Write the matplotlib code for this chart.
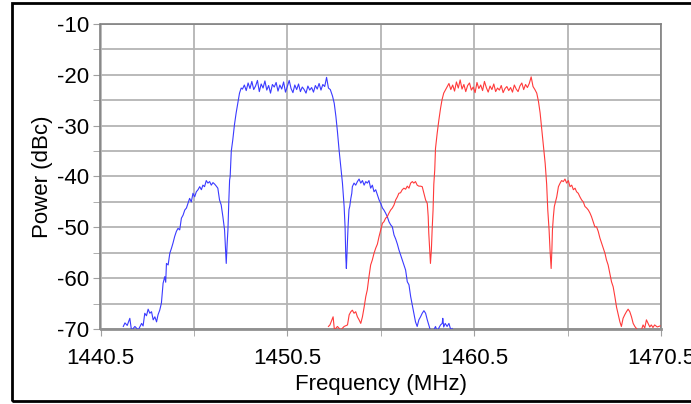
import matplotlib.pyplot as plt
from matplotlib.patches import Rectangle

# spectrum traces (MHz, dBc)
blue_freq = [
    1441.72, 1441.81, 1441.93, 1442.07, 1442.16, 1442.34, 1442.52, 1442.70,
    1442.78, 1442.87, 1442.96, 1443.05, 1443.14, 1443.23, 1443.32, 1443.41,
    1443.50, 1443.58, 1443.67, 1443.76, 1443.85, 1443.94, 1443.99, 1444.03,
    1444.12, 1444.21, 1444.30, 1444.38, 1444.47, 1444.56, 1444.65, 1444.74,
    1444.83, 1444.92, 1445.01, 1445.10, 1445.18, 1445.27, 1445.36, 1445.45,
    1445.54, 1445.63, 1445.72, 1445.81, 1445.90, 1445.98, 1446.07, 1446.16,
    1446.25, 1446.34, 1446.43, 1446.52, 1446.61, 1446.70, 1446.78, 1446.87,
    1446.96, 1447.05, 1447.14, 1447.19, 1447.23, 1447.28, 1447.32, 1447.37,
    1447.41, 1447.44, 1447.50, 1447.58, 1447.67, 1447.76, 1447.85, 1447.94,
    1448.03, 1448.10, 1448.20, 1448.30, 1448.40, 1448.50, 1448.60, 1448.70,
    1448.80, 1448.90, 1449.00, 1449.10, 1449.20, 1449.30, 1449.40, 1449.50,
    1449.60, 1449.70, 1449.80, 1449.90, 1450.00, 1450.10, 1450.20, 1450.30,
    1450.40, 1450.50, 1450.60, 1450.70, 1450.80, 1450.90, 1451.00, 1451.10,
    1451.20, 1451.30, 1451.40, 1451.50, 1451.60, 1451.70, 1451.80, 1451.90,
    1452.00, 1452.10, 1452.20, 1452.30, 1452.40, 1452.50, 1452.60, 1452.70,
    1452.80, 1452.92, 1453.01, 1453.10, 1453.18, 1453.27, 1453.36, 1453.45,
    1453.54, 1453.59, 1453.63, 1453.66, 1453.70, 1453.75, 1453.80, 1453.84,
    1453.90, 1453.95, 1453.98, 1454.07, 1454.16, 1454.25, 1454.34, 1454.43,
    1454.52, 1454.61, 1454.70, 1454.78, 1454.87, 1454.96, 1455.05, 1455.14,
    1455.23, 1455.32, 1455.41, 1455.50, 1455.59, 1455.67, 1455.76, 1455.85,
    1455.94, 1456.03, 1456.12, 1456.21, 1456.30, 1456.39, 1456.47, 1456.56,
    1456.65, 1456.74, 1456.83, 1456.92, 1457.01, 1457.10, 1457.19, 1457.27,
    1457.36, 1457.45, 1457.54, 1457.63, 1457.72, 1457.81, 1457.90, 1457.99,
    1458.07, 1458.16, 1458.34, 1458.43, 1458.52, 1458.70, 1458.79, 1458.82,
    1458.87, 1458.95, 1459.05, 1459.15, 1459.25, 1459.32,
]
blue_db = [
    -69.5, -68.8, -69.3, -67.9, -70.3, -69.5, -70.2, -68.9,
    -69.4, -66.9, -67.4, -66.1, -66.9, -66.6, -68.2, -67.6,
    -68.6, -67.2, -66.3, -64.9, -61.0, -59.7, -60.8, -57.1,
    -57.4, -55.1, -54.1, -53.1, -51.8, -50.8, -50.2, -50.5,
    -48.2, -47.6, -46.6, -46.2, -45.3, -44.3, -45.0, -43.3,
    -44.0, -43.0, -42.6, -42.0, -42.6, -41.7, -42.0, -40.8,
    -41.3, -41.0, -41.7, -41.2, -41.5, -41.9, -42.3, -44.6,
    -45.6, -47.9, -50.5, -54.4, -57.1, -53.1, -50.5, -44.6,
    -40.7, -40.0, -35.0, -32.8, -29.8, -27.5, -25.6, -23.6,
    -22.6, -22.8, -22.0, -23.1, -21.6, -22.7, -21.3, -22.9,
    -22.2, -21.1, -23.3, -21.8, -22.6, -21.2, -23.0, -22.1,
    -23.6, -21.9, -22.4, -21.5, -23.2, -22.0, -22.8, -21.4,
    -23.4, -22.3, -21.1, -22.7, -23.5, -22.0, -22.9, -21.8,
    -23.3, -22.4, -22.9, -23.6, -22.2, -23.0, -22.5, -23.4,
    -22.1, -22.8, -21.7, -23.0, -21.9, -22.3, -20.5, -22.6,
    -22.9, -24.2, -25.6, -28.2, -31.1, -34.8, -38.1, -41.3,
    -45.9, -49.9, -55.8, -58.1, -54.4, -49.9, -46.5, -45.9,
    -44.3, -43.3, -42.0, -41.3, -41.7, -41.0, -40.5, -41.3,
    -40.8, -41.7, -41.0, -41.3, -40.8, -42.3, -41.7, -43.0,
    -42.6, -43.6, -44.6, -45.3, -46.2, -46.6, -47.2, -47.9,
    -48.9, -49.5, -49.9, -51.5, -52.3, -53.3, -54.4, -55.4,
    -56.4, -57.4, -58.4, -60.7, -61.3, -63.6, -65.3, -66.9,
    -68.6, -69.5, -68.2, -67.6, -66.9, -66.4, -66.9, -68.2,
    -69.2, -70.3, -70.2, -69.5, -70.4, -69.2, -68.9, -67.9,
    -69.6, -68.9, -69.5, -68.9, -70.2, -69.9,
]

red_freq = [
    1452.70, 1452.78, 1452.95, 1453.02, 1453.18, 1453.36, 1453.54, 1453.72,
    1453.81, 1453.90, 1453.98, 1454.07, 1454.16, 1454.25, 1454.34, 1454.43,
    1454.52, 1454.61, 1454.70, 1454.78, 1454.87, 1454.96, 1455.05, 1455.14,
    1455.23, 1455.32, 1455.41, 1455.50, 1455.59, 1455.67, 1455.76, 1455.85,
    1455.94, 1456.03, 1456.12, 1456.21, 1456.30, 1456.39, 1456.47, 1456.56,
    1456.65, 1456.74, 1456.83, 1456.92, 1457.01, 1457.10, 1457.19, 1457.27,
    1457.36, 1457.45, 1457.54, 1457.63, 1457.72, 1457.81, 1457.90, 1457.99,
    1458.04, 1458.07, 1458.13, 1458.16, 1458.21, 1458.25, 1458.30, 1458.34,
    1458.39, 1458.43, 1458.52, 1458.61, 1458.70, 1458.78, 1458.87, 1458.96,
    1459.05, 1459.15, 1459.25, 1459.35, 1459.45, 1459.55, 1459.65, 1459.75,
    1459.85, 1459.95, 1460.05, 1460.15, 1460.25, 1460.35, 1460.45, 1460.55,
    1460.65, 1460.75, 1460.85, 1460.95, 1461.05, 1461.15, 1461.25, 1461.35,
    1461.45, 1461.55, 1461.65, 1461.75, 1461.85, 1461.95, 1462.05, 1462.15,
    1462.25, 1462.35, 1462.45, 1462.55, 1462.65, 1462.75, 1462.85, 1462.95,
    1463.05, 1463.15, 1463.25, 1463.35, 1463.45, 1463.55, 1463.65, 1463.75,
    1463.85, 1463.94, 1464.03, 1464.12, 1464.21, 1464.30, 1464.38, 1464.44,
    1464.51, 1464.56, 1464.62, 1464.66, 1464.69, 1464.74, 1464.79, 1464.86,
    1464.92, 1465.01, 1465.10, 1465.18, 1465.27, 1465.36, 1465.45, 1465.54,
    1465.63, 1465.72, 1465.81, 1465.90, 1465.98, 1466.07, 1466.16, 1466.25,
    1466.34, 1466.43, 1466.52, 1466.61, 1466.70, 1466.78, 1466.87, 1466.96,
    1467.05, 1467.14, 1467.23, 1467.32, 1467.41, 1467.50, 1467.58, 1467.67,
    1467.76, 1467.85, 1467.94, 1468.03, 1468.12, 1468.21, 1468.30, 1468.38,
    1468.47, 1468.56, 1468.65, 1468.74, 1468.83, 1468.92, 1469.01, 1469.10,
    1469.27, 1469.45, 1469.54, 1469.63, 1469.72, 1469.81, 1469.90, 1469.98,
    1470.07, 1470.16, 1470.30, 1470.45,
]
red_db = [
    -69.5, -69.2, -67.6, -70.2, -69.5, -70.2, -69.5, -69.2,
    -67.2, -66.6, -66.3, -66.9, -66.6, -67.6, -68.2, -68.9,
    -67.6, -65.7, -63.6, -62.3, -59.7, -57.4, -56.4, -55.1,
    -54.1, -53.3, -51.8, -50.5, -49.2, -48.9, -48.2, -47.9,
    -47.2, -46.6, -46.2, -45.6, -44.6, -44.0, -43.3, -43.2,
    -42.6, -42.3, -42.5, -41.9, -42.3, -41.3, -41.0, -41.3,
    -41.0, -41.7, -41.9, -41.9, -42.0, -43.3, -44.6, -45.3,
    -47.9, -51.1, -55.1, -57.1, -54.4, -50.5, -46.6, -41.5,
    -38.7, -34.5, -31.5, -28.9, -26.6, -24.9, -23.6, -23.0,
    -22.4, -21.7, -22.9, -22.0, -23.2, -21.4, -22.6, -21.0,
    -22.8, -21.9, -23.3, -22.1, -21.6, -23.0, -22.4, -23.5,
    -21.5, -22.7, -22.0, -23.1, -21.3, -22.5, -23.4, -22.2,
    -22.9, -21.8, -23.3, -22.6, -23.0, -22.1, -23.5, -22.7,
    -22.3, -23.1, -22.5, -23.4, -22.0, -22.8, -23.3, -22.2,
    -21.6, -22.9, -21.9, -22.5, -21.7, -20.4, -22.3, -22.9,
    -23.6, -25.2, -27.5, -30.8, -34.1, -37.4, -41.5, -46.6,
    -50.5, -54.4, -58.1, -54.4, -50.5, -47.9, -45.9, -44.9,
    -44.0, -42.0, -41.3, -40.8, -41.0, -40.5, -41.3, -40.8,
    -42.0, -41.7, -42.6, -42.3, -43.0, -43.3, -44.0, -44.6,
    -45.0, -45.9, -46.2, -46.6, -47.2, -47.9, -48.9, -49.9,
    -49.9, -50.8, -52.1, -53.1, -54.1, -55.1, -56.4, -57.4,
    -59.1, -60.7, -61.7, -63.6, -65.7, -67.2, -68.6, -69.5,
    -67.9, -67.2, -66.6, -66.1, -66.6, -67.6, -68.9, -69.5,
    -70.3, -70.2, -69.2, -69.8, -68.2, -68.9, -69.6, -69.2,
    -69.7, -69.2, -69.6, -69.4,
]

x_ticks = [1440.5, 1450.5, 1460.5, 1470.5]
y_ticks = [-10, -20, -30, -40, -50, -60, -70]

plt.rcParams['font.family'] = ['Liberation Sans', 'DejaVu Sans']
plt.rcParams['axes.unicode_minus'] = False

fig = plt.figure(figsize=(6.91, 4.04), dpi=100)
ax = fig.add_axes([100.5/691, 1 - 329/404, (661 - 100.5)/691, (329 - 24)/404])

ax.plot(blue_freq, blue_db, color='#3a3aff', lw=0.8, zorder=3)
ax.plot(red_freq, red_db, color='#ff3a3a', lw=0.8, zorder=3)

ax.set_xlim(1440.5, 1470.5)
ax.set_ylim(-70, -10)
ax.set_xticks(x_ticks)
ax.set_xticks([1445.5, 1455.5, 1465.5], minor=True)
ax.set_yticks(y_ticks)
ax.set_yticks([-15, -25, -35, -45, -55, -65], minor=True)
ax.set_xticklabels([str(v) for v in x_ticks])
ax.grid(True, which='both', color='#b4b4b4', lw=1.3, zorder=0)
ax.tick_params(which='both', direction='out', length=5, color='#a0a0a0',
               labelsize=16, pad=3)
ax.tick_params(axis='x', which='both', pad=9)
for s in ax.spines.values():
    s.set_color('#808080')
    s.set_linewidth(1.2)
ax.spines['bottom'].set_color('#909090')
ax.spines['bottom'].set_linewidth(2)

ax.set_xlabel('Frequency (MHz)', fontsize=16, labelpad=3)
ax.set_ylabel('Power (dBc)', fontsize=16, labelpad=3)

# outer frame around the picture
fig.patches.append(Rectangle((12/691, 3/404), 1.0, 398/404, transform=fig.transFigure,
                             fill=False, edgecolor='black', lw=2))

fig.savefig('out.png', dpi=100)
